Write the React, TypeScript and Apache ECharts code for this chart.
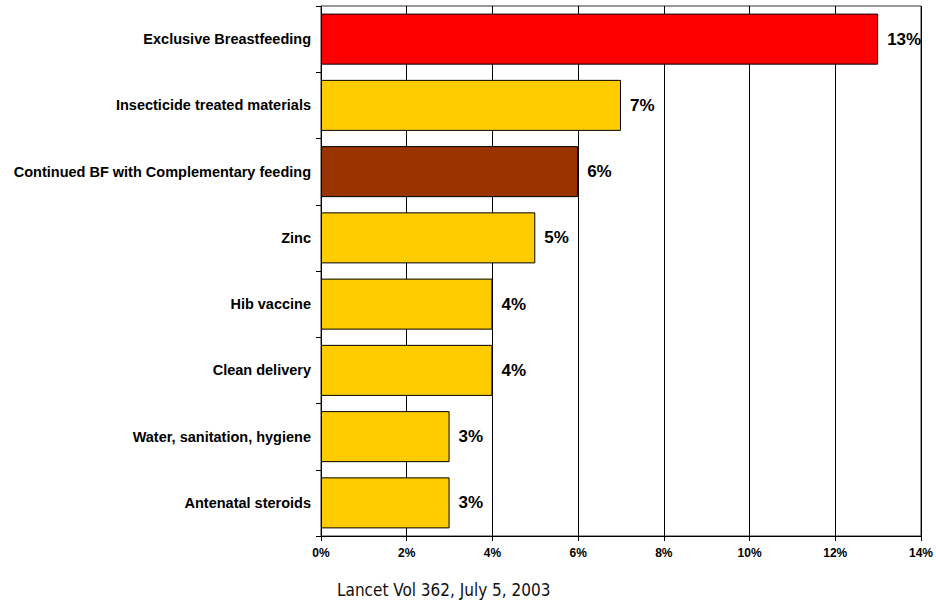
import React, { useEffect, useRef } from "react";
import * as echarts from "echarts";

const categories = [
  "Exclusive Breastfeeding",
  "Insecticide treated materials",
  "Continued BF with Complementary feeding",
  "Zinc",
  "Hib vaccine",
  "Clean delivery",
  "Water, sanitation, hygiene",
  "Antenatal steroids",
];
const values = [13, 7, 6, 5, 4, 4, 3, 3];
const barColors = ["#FF0000", "#FFCC00", "#993300", "#FFCC00", "#FFCC00", "#FFCC00", "#FFCC00", "#FFCC00"];
const xTicks = [0, 2, 4, 6, 8, 10, 12, 14];
const footer = "Lancet Vol 362, July 5, 2003";

export default function App() {
  const ref = useRef<HTMLDivElement>(null);
  useEffect(() => {
    if (!ref.current) return;
    const chart = echarts.init(ref.current, null, { renderer: "svg" });
    chart.setOption({
      animation: false,
      backgroundColor: "#ffffff",
      grid: { left: 321, right: 11, top: 6, bottom: 67, show: true, borderColor: "#333", borderWidth: 1, backgroundColor: "transparent" },
      xAxis: {
        type: "value",
        min: xTicks[0],
        max: xTicks[xTicks.length - 1],
        interval: 2,
        axisLine: { show: true, lineStyle: { color: "#000", width: 1 } },
        axisTick: { show: true, length: 5, lineStyle: { color: "#000" } },
        axisLabel: {
          formatter: (v: number) => v + "%",
          fontFamily: "Liberation Sans, Arial, sans-serif",
          fontWeight: "bold",
          fontSize: 12,
          color: "#000",
          margin: 11,
        },
        splitLine: { show: true, lineStyle: { color: "#000", width: 1 } },
      },
      yAxis: {
        type: "category",
        data: categories,
        inverse: true,
        axisLine: { show: true, lineStyle: { color: "#000", width: 1 } },
        axisTick: { show: true, length: 5, lineStyle: { color: "#000" } },
        axisLabel: {
          fontFamily: "Liberation Sans, Arial, sans-serif",
          fontWeight: "bold",
          fontSize: 14.5,
          color: "#000",
          margin: 10,
        },
      },
      series: [
        {
          type: "bar",
          data: values.map((v, i) => ({ value: v, itemStyle: { color: barColors[i] } })),
          barCategoryGap: "23%",
          itemStyle: { borderColor: "#000", borderWidth: 1 },
          label: {
            show: true,
            position: "right",
            distance: 9,
            formatter: (p: any) => p.value + "%",
            fontFamily: "Liberation Sans, Arial, sans-serif",
            fontWeight: "bold",
            fontSize: 17,
            color: "#000",
          },
        },
      ],
      graphic: [
        {
          type: "text",
          left: 337,
          top: 581,
          style: {
            text: footer,
            fontFamily: "DejaVu Sans Condensed, Liberation Sans, sans-serif",
            fontSize: 17,
            fill: "#111",
          },
        },
      ],
    });
    return () => chart.dispose();
  }, []);
  return <div ref={ref} style={{ position: "fixed", left: 0, top: 0, width: 936, height: 603 }} />;
}
